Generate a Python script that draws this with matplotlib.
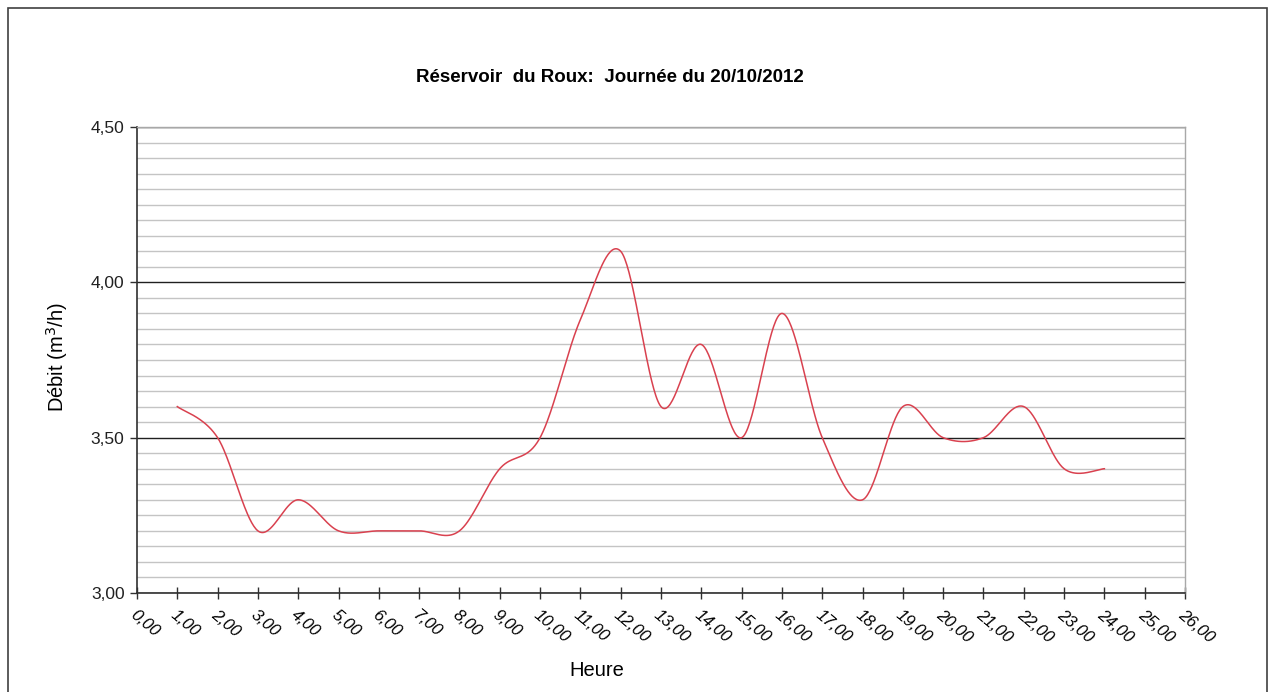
import numpy as np
import matplotlib
matplotlib.use("Agg")
from matplotlib import pyplot as plt
from matplotlib.patches import Rectangle
from matplotlib.ticker import MultipleLocator, FuncFormatter

plt.rcParams['font.family'] = ['Liberation Sans', 'DejaVu Sans']

# Data (hourly flow, m3/h)
hours = [1, 2, 3, 4, 5, 6, 7, 8, 9, 10, 11, 12,
         13, 14, 15, 16, 17, 18, 19, 20, 21, 22, 23, 24]
debit = [3.60, 3.50, 3.20, 3.30, 3.20, 3.20, 3.20, 3.20, 3.40, 3.50, 3.88, 4.10,
         3.60, 3.80, 3.50, 3.90, 3.50, 3.30, 3.60, 3.50, 3.50, 3.60, 3.40, 3.40]

title = "Réservoir  du Roux:  Journée du 20/10/2012"
x_label = "Heure"
y_label = "Débit (m$^3$/h)"


def smooth_line(xs, ys, n=40):
    # Excel-like smoothed line: Bezier segments with Catmull-Rom control points
    xs = np.asarray(xs, float)
    ys = np.asarray(ys, float)
    px = np.concatenate([[xs[0]], xs, [xs[-1]]])
    py = np.concatenate([[ys[0]], ys, [ys[-1]]])
    out_x, out_y = [], []
    t = np.linspace(0, 1, n)
    for i in range(1, len(px) - 2):
        p0 = np.array([px[i - 1], py[i - 1]])
        p1 = np.array([px[i], py[i]])
        p2 = np.array([px[i + 1], py[i + 1]])
        p3 = np.array([px[i + 2], py[i + 2]])
        c1 = p1 + (p2 - p0) / 6
        c2 = p2 - (p3 - p1) / 6
        b = ((1 - t) ** 3)[:, None] * p1 + (3 * (1 - t) ** 2 * t)[:, None] * c1 \
            + (3 * (1 - t) * t ** 2)[:, None] * c2 + (t ** 3)[:, None] * p2
        out_x.extend(b[:, 0])
        out_y.extend(b[:, 1])
    return np.array(out_x), np.array(out_y)


fig = plt.figure(figsize=(12.72, 6.92), dpi=100)
fig.patches.append(Rectangle((8 / 1272, -0.01), 1259 / 1272, (692 - 8) / 692 + 0.01,
                             transform=fig.transFigure, fill=False,
                             edgecolor='#404040', linewidth=1.2))

ax = fig.add_axes([137 / 1272, 99 / 692, 1048 / 1272, 466 / 692])

sx, sy = smooth_line(hours, debit)
ax.plot(sx, sy, color='#d9414f', linewidth=1.1, zorder=3)

ax.set_xlim(0, 26)
ax.set_ylim(3.0, 4.5)
ax.xaxis.set_major_locator(MultipleLocator(1))
ax.yaxis.set_major_locator(MultipleLocator(0.5))
ax.yaxis.set_minor_locator(MultipleLocator(0.05))
fmt = FuncFormatter(lambda v, p: f"{v:.2f}".replace('.', ','))
ax.xaxis.set_major_formatter(fmt)
ax.yaxis.set_major_formatter(fmt)

ax.grid(True, which='minor', axis='y', color='#c4c4c4', linewidth=1.0)
ax.grid(True, which='major', axis='y', color='#202020', linewidth=1.0)
ax.grid(False, axis='x')
ax.set_axisbelow(True)

ax.tick_params(axis='x', direction='inout', length=8, width=1, color='#303030',
               labelsize=12, pad=6)
ax.tick_params(axis='y', which='major', direction='out', length=5, width=1,
               color='#303030', labelsize=12.5, labelcolor='#202020', pad=4)
ax.tick_params(axis='y', which='minor', length=0)
for lbl in ax.get_xticklabels():
    lbl.set_rotation(-40)
    lbl.set_ha('left')
    lbl.set_va('top')
    lbl.set_rotation_mode('anchor')
    lbl.set_fontstyle('italic')

for s in ('left', 'bottom'):
    ax.spines[s].set_color('#303030')
    ax.spines[s].set_linewidth(1.2)
for s in ('top', 'right'):
    ax.spines[s].set_color('#a8a8a8')
    ax.spines[s].set_linewidth(1.0)

fig.text(610 / 1272, 1 - 77 / 692, title, ha='center', va='center',
         fontsize=13.5, fontweight='bold')
fig.text(57 / 1272, 1 - 357 / 692, y_label, ha='center', va='center',
         rotation=90, fontsize=14.5)
fig.text(597 / 1272, 1 - 671 / 692, x_label, ha='center', va='center',
         fontsize=14.5)

fig.savefig("out.png", dpi=100, facecolor='white')
